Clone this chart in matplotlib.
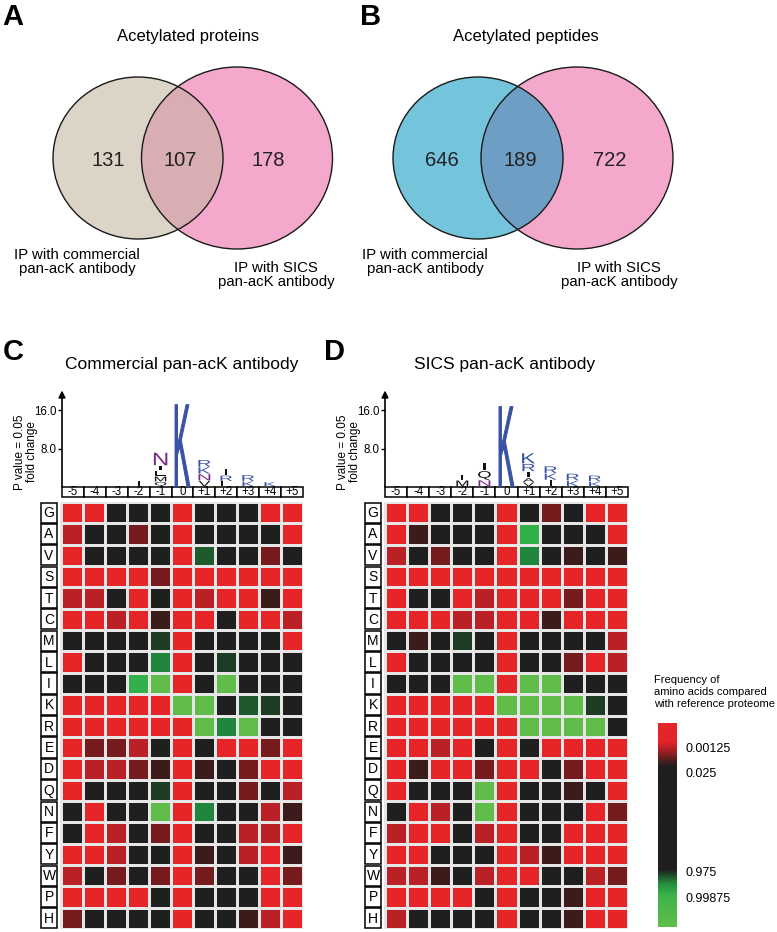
import numpy as np
import matplotlib
matplotlib.use('Agg')
import matplotlib.pyplot as plt
import matplotlib.transforms as mtransforms
from matplotlib.patches import Ellipse, Rectangle, PathPatch
from matplotlib.colors import ListedColormap, BoundaryNorm, LinearSegmentedColormap
from matplotlib.textpath import TextPath
from matplotlib.font_manager import FontProperties

plt.rcParams['font.family'] = ['Liberation Sans', 'DejaVu Sans']

W, H = 777, 932

# venn counts: only left, both, only right
protein_counts = [131, 107, 178]
peptide_counts = [646, 189, 722]

positions = ['-5', '-4', '-3', '-2', '-1', '0', '+1', '+2', '+3', '+4', '+5']
residues = ['G', 'A', 'V', 'S', 'T', 'C', 'M', 'L', 'I', 'K',
            'R', 'E', 'D', 'Q', 'N', 'F', 'Y', 'W', 'P', 'H']

# cell levels, from strong red (R) over black (k) to light green (L)
level_codes = 'RrdxkyhgGL'
level_colors = ['#e52528', '#b92126', '#761c1e', '#3c1b1b', '#1f1f1f',
                '#1e3b23', '#1f5a2c', '#22853d', '#31b04a', '#60bd49']

commercial_cells = [
    'RRkkkRkkkRR',  # G
    'rkkdkRkkkkR',  # A
    'RkkkkRhkkdk',  # V
    'RRRRdRRRRRR',  # S
    'rrkRkRrRRxR',  # T
    'RRrRxRRkRRr',  # C
    'kkkkyRkkkkR',  # M
    'RkkkgRkykkk',  # L
    'kkkGLRkLkkk',  # I
    'RRRRRLLkhyk',  # K
    'RRRRRRLgLkk',  # R
    'RddrkRkRRdR',  # E
    'RrrdxRxkdRR',  # D
    'RkkkyRkkdkr',  # Q
    'kRkkLRgkkrx',  # N
    'kRrkdRkkrrR',  # F
    'RRrkkRxkrRx',  # Y
    'rkdkdRdkkRd',  # W
    'RRRRkRkkkRR',  # P
    'dkkkkRkkxrR',  # H
]

sics_cells = [
    'RRkkkRkdkRR',  # G
    'RxkkkRGkkkR',  # A
    'rkdkkRgkxkx',  # V
    'RRRRRRRRRRR',  # S
    'RkkRrRRRdRR',  # T
    'RRRrrRRxRRR',  # C
    'kxkykRkkkkr',  # M
    'RkkkkRkkdRr',  # L
    'kkkLLRLLkkk',  # I
    'RRRRRLLLLyk',  # K
    'RRRRRRLLLLk',  # R
    'RRrRkRkRRRR',  # E
    'RxRRdRRkdRR',  # D
    'RkkkLRkkxkR',  # Q
    'kRrkLRkkkRd',  # N
    'rRRkrRkkRRR',  # F
    'RRkkkRrxRRR',  # Y
    'rrxkrRRkkrd',  # W
    'RRRRkRkkxRR',  # P
    'rkkkkRkkxRR',  # H
]

# sequence logo stacks per position, bottom to top: (letter, fold change height)
commercial_logo = [
    [], [], [],
    [('I', 1.0)],
    [('Q', 0.9), ('M', 1.0), ('L', 1.1), ('I', 0.9), ('N', 2.6)],
    [('K', 17.0)],
    [('V', 1.1), ('N', 1.3), ('K', 1.3), ('R', 1.4)],
    [('L', 1.0), ('R', 1.1), ('I', 1.2)],
    [('K', 1.0), ('R', 1.2)],
    [('K', 0.85)],
    [],
]
sics_logo = [
    [], [], [],
    [('M', 1.2), ('I', 1.1)],
    [('N', 1.25), ('Q', 1.8), ('I', 1.5)],
    [('K', 16.6)],
    [('V', 0.8), ('A', 0.8), ('I', 1.2), ('R', 1.5), ('K', 2.1)],
    [('I', 1.25), ('K', 1.25), ('R', 1.4)],
    [('K', 1.1), ('R', 1.4)],
    [('K', 0.9), ('R', 1.2)],
    [],
]

cbar_ticks = ['0.00125', '0.025', '0.975', '0.99875']

letter_colors = {'K': '#3a52a6', 'R': '#3a52a6', 'N': '#7b2a88'}
logo_font = FontProperties(family='Liberation Sans')


def px_axes(fig, x0, y0, x1, y1):
    return fig.add_axes([x0 / W, 1 - y1 / H, (x1 - x0) / W, (y1 - y0) / H])


def draw_letter(ax, ch, x, y, w, h, color):
    tp = TextPath((0, 0), ch, size=1, prop=logo_font)
    bb = tp.get_extents()
    tr = (mtransforms.Affine2D().translate(-bb.x0, -bb.y0)
          .scale(w / bb.width, h / bb.height).translate(x - w / 2, y))
    # the tall K gets a thin stroke so it does not look hairline
    lw = 0.7 if h > 5 else 0
    ax.add_patch(PathPatch(tr.transform_path(tp), fc=color, ec=color, lw=lw))


def venn(ax, left_geo, right_geo, colors, counts, title, xs, lab_left, lab_right):
    left = Ellipse(*left_geo, fc=colors[0], ec='none')
    right = Ellipse(*right_geo, fc=colors[1], ec='none')
    ax.add_patch(left)
    ax.add_patch(right)
    mid = Ellipse(*right_geo, fc=colors[2], ec='none')
    ax.add_patch(mid)
    mid.set_clip_path(left)
    ax.add_patch(Ellipse(*left_geo, fc='none', ec='#1a1a1a', lw=1.0))
    ax.add_patch(Ellipse(*right_geo, fc='none', ec='#1a1a1a', lw=1.0))
    for x, n in zip(xs, counts):
        ax.text(x, 161, str(n), ha='center', va='center', fontsize=14.5, color='#222222')
    ax.text((xs[0] + xs[2]) / 2, 37, title, ha='center', va='center', fontsize=12)
    ax.text(lab_left, 262, 'IP with commercial\npan-acK antibody', ha='center', va='center',
            fontsize=10.8, linespacing=1.05)
    ax.text(lab_right, 275, 'IP with SICS\npan-acK antibody', ha='center', va='center',
            fontsize=10.8, linespacing=1.05)


def logo_panel(fig, x0, x1, logo):
    ax = px_axes(fig, x0, 390, x1, 497)
    ax.set_xlim(0, len(positions))
    ax.set_ylim(-2.08, 20.2)
    for s in ax.spines.values():
        s.set_visible(False)
    ax.set_xticks([])
    ax.set_yticks([8, 16])
    ax.set_yticklabels(['8.0', '16.0'], fontsize=8.3)
    ax.tick_params(axis='y', direction='out', length=3, width=1, pad=1)
    ax.set_ylabel('P value = 0.05\nfold change', fontsize=8.5, labelpad=4, linespacing=1.0)
    ax.yaxis.set_label_coords(-0.1, 0.42)
    ax.annotate('', xy=(0, 20.1), xytext=(0, -0.05), xycoords='data',
                arrowprops=dict(arrowstyle='-|>', color='black', lw=1.2,
                                mutation_scale=10, shrinkA=0, shrinkB=0),
                annotation_clip=False)
    for i, lab in enumerate(positions):
        ax.add_patch(Rectangle((i, -2.08), 1, 2.08, fc='white', ec='black', lw=1.1, clip_on=False))
        ax.text(i + 0.5, -1.0, lab, ha='center', va='center', fontsize=8.3)
    for i, stack in enumerate(logo):
        y = 0.15
        for ch, h in stack:
            w = min(0.68, 0.46 + 0.06 * h)
            if ch == 'I':
                w = 0.1
            draw_letter(ax, ch, i + 0.5, y, w, h, letter_colors.get(ch, '#111111'))
            y += h + 0.12
    return ax


def heatmap_panel(fig, x0, x1, cells):
    ax = px_axes(fig, x0 - 21, 502, x1, 929)
    n_col = len(positions)
    ax.set_xlim(-0.95, n_col)
    ax.set_ylim(len(residues), 0)
    ax.axis('off')
    grid = np.array([[level_codes.index(c) for c in row] for row in cells])
    cmap = ListedColormap(level_colors)
    norm = BoundaryNorm(np.arange(len(level_codes) + 1) - 0.5, cmap.N)
    ax.pcolormesh(np.arange(n_col + 1), np.arange(len(residues) + 1), grid,
                  cmap=cmap, norm=norm, edgecolors='#e6e6e6', linewidth=0.8)
    for r, res in enumerate(residues):
        ax.add_patch(Rectangle((-0.92, r + 0.03), 0.76, 0.94, fc='white', ec='black', lw=1.1))
        ax.text(-0.54, r + 0.52, res, ha='center', va='center', fontsize=10)
    return ax


fig = plt.figure(figsize=(W / 100, H / 100), dpi=100)
fig.patch.set_facecolor('white')

base = fig.add_axes([0, 0, 1, 1])
base.set_xlim(0, W)
base.set_ylim(H, 0)
base.axis('off')

venn(base, ((138, 158), 170, 162), ((237, 158), 191, 182),
     ['#dcd5c7', '#f4a8cb', '#d8aeb2'], protein_counts,
     'Acetylated proteins', [108, 180, 268], 77, 276)
venn(base, ((478, 158), 170, 162), ((577, 158), 192, 182),
     ['#74c4dc', '#f4a8cb', '#6f9ec4'], peptide_counts,
     'Acetylated peptides', [442, 520, 610], 425, 619)

for x, lab in [(13, 'A'), (371, 'B'), (13, 'C'), (335, 'D')]:
    y = 17 if lab in 'AB' else 352
    base.text(x, y, lab, ha='center', va='center', fontsize=21, fontweight='bold')

base.text(182, 365, 'Commercial pan-acK antibody', ha='center', va='center', fontsize=12.5)
base.text(505, 365, 'SICS pan-acK antibody', ha='center', va='center', fontsize=12.5)

logo_panel(fig, 62, 303, commercial_logo)
logo_panel(fig, 385, 628, sics_logo)
heatmap_panel(fig, 61, 303, commercial_cells)
heatmap_panel(fig, 385, 628, sics_cells)

# colour key
freq_cmap = LinearSegmentedColormap.from_list('freq', [
    (0.0, '#62bd49'), (0.15, '#3db44a'), (0.21, '#24903f'), (0.28, '#1f1f1f'),
    (0.79, '#1f1f1f'), (0.86, '#9c1e22'), (0.91, '#e3242a'), (1.0, '#e5262a')])
cax = px_axes(fig, 658, 723, 677, 927)
cax.imshow(np.linspace(0, 1, 256).reshape(-1, 1), cmap=freq_cmap, aspect='auto',
           origin='lower', extent=(0, 1, 0, 1))
cax.set_xticks([])
cax.yaxis.tick_right()
cax.set_yticks([0.882, 0.755, 0.27, 0.147])
cax.set_yticklabels(cbar_ticks, fontsize=9)
cax.tick_params(axis='y', length=0, pad=6)
for s in cax.spines.values():
    s.set_visible(False)
base.text(654, 692, 'Frequency of\namino acids compared\nwith reference proteome',
          ha='left', va='center', fontsize=8, linespacing=1.25)

fig.savefig('out.png', dpi=100, facecolor='white')
